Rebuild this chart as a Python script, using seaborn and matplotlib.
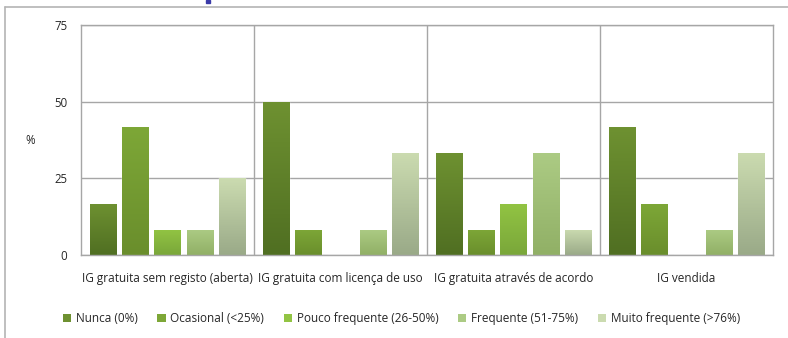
import numpy as np
import pandas as pd
import matplotlib
matplotlib.use("Agg")
import matplotlib.pyplot as plt
import seaborn as sns
from matplotlib.colors import LinearSegmentedColormap
from matplotlib.lines import Line2D
from matplotlib.patches import Rectangle

# -----------------------------------
# Data
# -----------------------------------

categories = [
    "IG gratuita sem registo (aberta)",
    "IG gratuita com licença de uso",
    "IG gratuita através de acordo",
    "IG vendida",
]

series = [
    "Nunca (0%)",
    "Ocasional (<25%)",
    "Pouco frequente (26-50%)",
    "Frequente (51-75%)",
    "Muito frequente (>76%)",
]

nunca = [16.7, 50.0, 33.3, 41.7]
ocasional = [41.7, 8.3, 8.3, 16.7]
pouco_frequente = [8.3, 0.0, 16.7, 0.0]
frequente = [8.3, 8.3, 33.3, 8.3]
muito_frequente = [25.0, 33.3, 8.3, 33.3]

y_ticks = [0, 25, 50, 75]

# top / bottom colours of each bar gradient
top_colors = ["#6e9131", "#7da737", "#92c443", "#accb84", "#cbdbb0"]
bottom_colors = ["#506f22", "#6a8e2c", "#7aa73a", "#91b066", "#9aaa88"]

values = [nunca, ocasional, pouco_frequente, frequente, muito_frequente]

rows = []
for name, vals in zip(series, values):
    for cat, v in zip(categories, vals):
        rows.append({"Categoria": cat, "Serie": name, "Valor": v})
df = pd.DataFrame(rows)

# -----------------------------------
# Figure
# -----------------------------------

sns.set_style("white")
plt.rcParams["font.family"] = ["Open Sans", "DejaVu Sans"]

fig = plt.figure(figsize=(7.88, 3.38), dpi=100)
ax = fig.add_axes([0.1028, 0.2456, 0.8782, 0.6804])

sns.barplot(
    data=df,
    x="Categoria",
    y="Valor",
    hue="Serie",
    order=categories,
    hue_order=series,
    palette=top_colors,
    width=0.93,
    gap=0.19,
    errorbar=None,
    legend=False,
    ax=ax,
)

# gradient fill on each bar
for i, name in enumerate(series):
    cmap = LinearSegmentedColormap.from_list(
        name, [bottom_colors[i], top_colors[i]]
    )
    for patch in ax.containers[i]:
        x0 = patch.get_x()
        w = patch.get_width()
        h = patch.get_height()
        if h <= 0:
            continue
        grad = np.linspace(0, 1, 64).reshape(-1, 1)
        im = ax.imshow(
            grad,
            cmap=cmap,
            origin="lower",
            extent=[x0, x0 + w, 0, h],
            aspect="auto",
            zorder=patch.get_zorder() + 0.1,
        )
        im.set_clip_path(patch)

ax.set_xlim(-0.5, len(categories) - 0.5)
ax.set_ylim(0, 75)
ax.set_yticks(y_ticks)
ax.set_yticklabels([str(t) for t in y_ticks], fontsize=8.3)

ax.set_xlabel("")
ax.set_ylabel("")
ax.tick_params(axis="both", length=0)
ax.tick_params(axis="y", pad=10)
ax.tick_params(axis="x", pad=12)
for lbl in ax.get_xticklabels():
    lbl.set_fontsize(8.5)

ax.yaxis.grid(True, color="#a6a6a6", linewidth=1)
ax.set_axisbelow(True)
for pos in [0.5, 1.5, 2.5]:
    ax.axvline(pos, color="#a6a6a6", linewidth=1, zorder=0)

for side in ["left", "right", "top", "bottom"]:
    ax.spines[side].set_visible(True)
    ax.spines[side].set_color("#a6a6a6")
    ax.spines[side].set_linewidth(1)

fig.text(0.038, 0.583, "%", fontsize=8.3, ha="center", va="center")

# legend
handles = [
    Rectangle((0, 0), 1, 1, facecolor=c, edgecolor="none")
    for c in top_colors
]
fig.legend(
    handles,
    series,
    loc="center",
    bbox_to_anchor=(0.5095, 0.058),
    ncol=5,
    frameon=False,
    fontsize=8.5,
    handlelength=0.7,
    handleheight=0.7,
    handletextpad=0.4,
    columnspacing=1.65,
)

# outer frame of the slide region
fig.add_artist(Line2D([0.0063, 0.0063], [0, 0.979], color="#b4b4b4", lw=1.2))
fig.add_artist(Line2D([0.0063, 1.0], [0.979, 0.979], color="#b4b4b4", lw=1.2))
fig.add_artist(
    Rectangle((0.2615, 0.991), 0.005, 0.009, color="#3a3aa8",
              transform=fig.transFigure)
)

fig.savefig("out.png", dpi=100, facecolor="white")
